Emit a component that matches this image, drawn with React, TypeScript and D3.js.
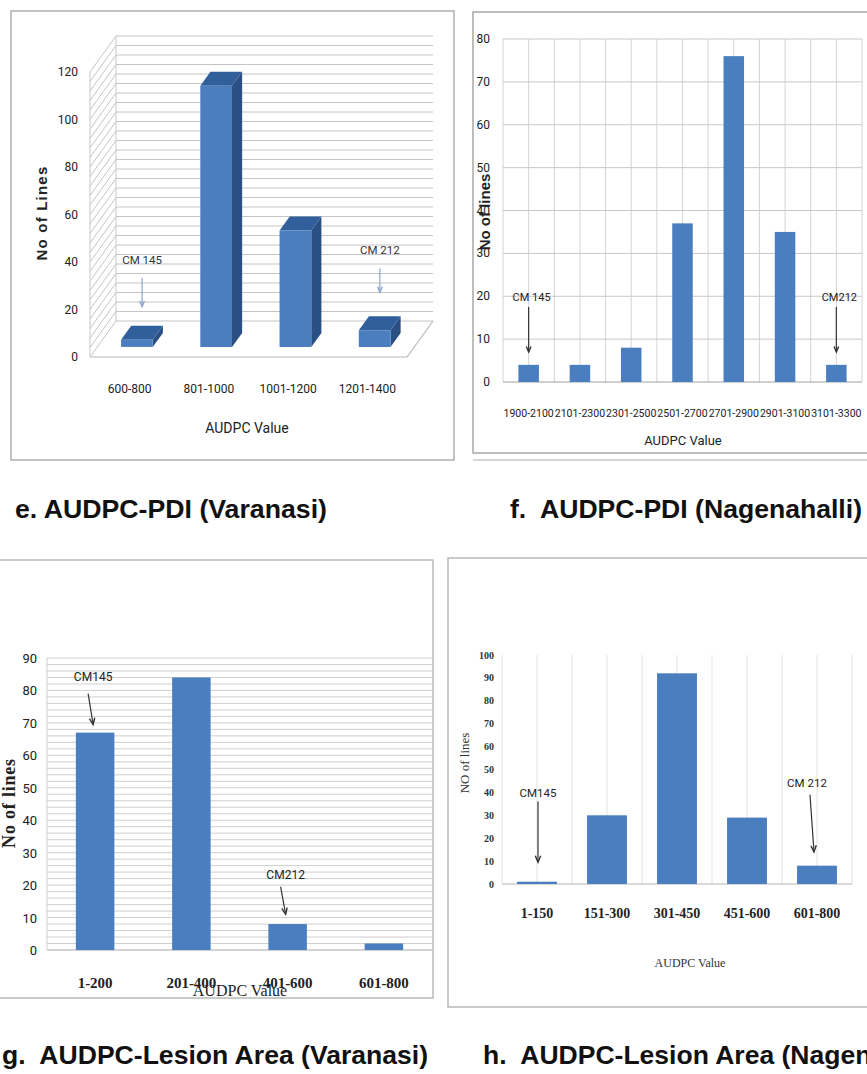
import * as d3 from "d3";

// e. AUDPC-PDI (Varanasi)
const eCats = ["600-800", "801-1000", "1001-1200", "1201-1400"];
const eVals = [3, 110, 49, 7];
const eTicks = [0, 20, 40, 60, 80, 100, 120];

// f. AUDPC-PDI (Nagenahalli)
const fCats = ["1900-2100", "2101-2300", "2301-2500", "2501-2700", "2701-2900", "2901-3100", "3101-3300"];
const fVals = [4, 4, 8, 37, 76, 35, 4];
const fTicks = [0, 10, 20, 30, 40, 50, 60, 70, 80];

// g. AUDPC-Lesion Area (Varanasi)
const gCats = ["1-200", "201-400", "401-600", "601-800"];
const gVals = [67, 84, 8, 2];
const gTicks = [0, 10, 20, 30, 40, 50, 60, 70, 80, 90];

// h. AUDPC-Lesion Area (Nagenahalli)
const hCats = ["1-150", "151-300", "301-450", "451-600", "601-800"];
const hVals = [1, 30, 92, 29, 8];
const hTicks = [0, 10, 20, 30, 40, 50, 60, 70, 80, 90, 100];

// annotations: category index, label, label level, arrow from / to (in data units)
const eNotes = [
  { cat: 0, label: "CM 145", at: 32, from: 26, to: 14 },
  { cat: 3, label: "CM 212", at: 36, from: 30, to: 20 },
];
const fNotes = [
  { cat: 0, label: "CM 145", at: 19, from: 18.4, to: 7 },
  { cat: 6, label: "CM212", at: 19, from: 18.4, to: 7 },
];
const gNotes = [
  { cat: 0, label: "CM145", at: 83, from: 79, to: 69.5 },
  { cat: 2, label: "CM212", at: 22, from: 19.5, to: 11 },
];
const hNotes = [
  { cat: 0, label: "CM145", at: 38, from: 36, to: 9.5 },
  { cat: 4, label: "CM 212", at: 42.5, from: 39, to: 14 },
];

const BLUE = "#4a7ebf";
const NARROW = "'Liberation Sans Narrow','Arial Narrow',Roboto,sans-serif";
const SERIF = "'Liberation Serif','Times New Roman',serif";
const ARIAL = "'Liberation Sans',Arial,sans-serif";

function Arrow({ x1, y1, x2, y2, color, head = 6 }: any) {
  const a = Math.atan2(y2 - y1, x2 - x1);
  const p1 = [x2 - head * Math.cos(a - 0.4), y2 - head * Math.sin(a - 0.4)];
  const p2 = [x2 - head * Math.cos(a + 0.4), y2 - head * Math.sin(a + 0.4)];
  return (
    <g>
      <line x1={x1} y1={y1} x2={x2} y2={y2} stroke={color} strokeWidth={1.2} />
      <path d={`M${p1[0]},${p1[1]}L${x2},${y2}L${p2[0]},${p2[1]}`} fill="none" stroke={color} strokeWidth={1.4} />
    </g>
  );
}

function PanelE() {
  const x = d3.scaleBand<string>().domain(eCats).range([90, 407]);
  const y = d3.scaleLinear().domain([0, 120]).range([357, 72]);
  const DX = 26, DY = -36;
  const p = (px: number, py: number, d: number) => [px + d * DX, py + d * DY];
  const pts = (a: number[][]) => a.map((q) => q.join(",")).join(" ");
  const d0 = 0.28, d1 = 0.67, dm = 0.48;
  const grid = d3.range(0, 121, 4);
  const bw = x.bandwidth() * 0.4;
  return (
    <g>
      <rect x={11} y={11} width={443} height={449} fill="#fff" stroke="#b0b0b0" strokeWidth={1.5} />
      {grid.map((v) => {
        const [bx, by] = p(90, y(v), 1);
        const [ex] = p(407, y(v), 1);
        return (
          <g key={v}>
            <line x1={90} y1={y(v)} x2={bx} y2={by} stroke="#c4c4c4" />
            <line x1={bx} y1={by} x2={ex} y2={by} stroke="#c4c4c4" />
          </g>
        );
      })}
      <line x1={90} y1={y(120)} x2={90} y2={y(0)} stroke="#c8c8c8" />
      <line x1={p(90, 0, 1)[0]} y1={p(0, y(120), 1)[1]} x2={p(90, 0, 1)[0]} y2={p(0, y(0), 1)[1]} stroke="#c8c8c8" />
      <line x1={90} y1={y(0)} x2={407} y2={y(0)} stroke="#b8b8b8" strokeWidth={1.2} />
      <line x1={407} y1={y(0)} x2={p(407, 0, 1)[0]} y2={p(0, y(0), 1)[1]} stroke="#b8b8b8" strokeWidth={1.2} />
      {eCats.map((c, i) => {
        const xc = (x(c) as number) + x.bandwidth() / 2;
        const xl = xc - bw / 2, xr = xc + bw / 2;
        const yt = y(eVals[i]), yb = y(0);
        return (
          <g key={c}>
            <polygon points={pts([p(xr, yt, d0), p(xr, yt, d1), p(xr, yb, d1), p(xr, yb, d0)])} fill="#2a4f82" />
            <polygon points={pts([p(xl, yt, d0), p(xr, yt, d0), p(xr, yt, d1), p(xl, yt, d1)])} fill="#315f9c" />
            <polygon points={pts([p(xl, yt, d0), p(xr, yt, d0), p(xr, yb, d0), p(xl, yb, d0)])} fill={BLUE} />
          </g>
        );
      })}
      {eTicks.map((t) => (
        <text key={t} x={78} y={y(t) + 4} textAnchor="end" fontFamily={NARROW} fontSize={12} fill="#222">{t}</text>
      ))}
      {eCats.map((c) => (
        <text key={c} x={(x(c) as number) + x.bandwidth() / 2} y={393} textAnchor="middle" fontFamily={NARROW} fontSize={12} fill="#222">{c}</text>
      ))}
      {eNotes.map((n) => {
        const xc = (x(eCats[n.cat]) as number) + x.bandwidth() / 2;
        const [tx, ty] = p(xc, y(n.at), dm);
        const [ax, ay1] = p(xc, y(n.from), dm);
        const [, ay2] = p(xc, y(n.to), dm);
        return (
          <g key={n.label}>
            <text x={tx} y={ty} textAnchor="middle" fontFamily={NARROW} fontSize={11.5} fill="#333">{n.label}</text>
            <Arrow x1={ax} y1={ay1} x2={ax} y2={ay2} color="#8aa6cc" head={6} />
          </g>
        );
      })}
      <text transform="translate(47,213) rotate(-90)" textAnchor="middle" fontFamily={ARIAL} fontWeight="bold" fontSize={15} letterSpacing={1.2} fill="#222">No of Lines</text>
      <text x={247} y={433} textAnchor="middle" fontFamily={NARROW} fontSize={14} fill="#222">AUDPC Value</text>
    </g>
  );
}

function PanelF() {
  const x = d3.scaleBand<string>().domain(fCats).range([503, 862]);
  const y = d3.scaleLinear().domain([0, 80]).range([382, 39]);
  const bw = x.bandwidth() * 0.4;
  const vlines = d3.range(0, fCats.length * 2 + 1).map((k) => 503 + (k * x.bandwidth()) / 2);
  return (
    <g>
      <rect x={473} y={12} width={400} height={441} fill="#fff" stroke="#a8a8a8" strokeWidth={1.5} />
      <line x1={473} y1={460} x2={867} y2={460} stroke="#c8c8c8" strokeWidth={1.5} />
      {vlines.map((vx, k) => (
        <line key={k} x1={vx} y1={y(80)} x2={vx} y2={y(0)} stroke="#d4d4d4" />
      ))}
      {fTicks.map((t) => (
        <line key={t} x1={503} y1={y(t)} x2={862} y2={y(t)} stroke={t === 0 ? "#a0a0a0" : "#c8c8c8"} />
      ))}
      {fCats.map((c, i) => (
        <rect key={c} x={(x(c) as number) + (x.bandwidth() - bw) / 2} y={y(fVals[i])} width={bw} height={y(0) - y(fVals[i])} fill={BLUE} />
      ))}
      {fTicks.map((t) => (
        <text key={t} x={490} y={y(t) + 4} textAnchor="end" fontFamily={NARROW} fontSize={12} fill="#222">{t}</text>
      ))}
      {fCats.map((c) => (
        <text key={c} x={(x(c) as number) + x.bandwidth() / 2} y={417} textAnchor="middle" fontFamily={NARROW} fontSize={11.5} textLength={x.bandwidth() - 1} lengthAdjust="spacingAndGlyphs" fill="#222">{c}</text>
      ))}
      {fNotes.map((n) => {
        const xc = (x(fCats[n.cat]) as number) + x.bandwidth() / 2;
        return (
          <g key={n.label}>
            <text x={xc + 3} y={y(n.at)} textAnchor="middle" fontFamily={NARROW} fontSize={11} fill="#222">{n.label}</text>
            <Arrow x1={xc} y1={y(n.from) + 4} x2={xc} y2={y(n.to)} color="#333" head={6} />
          </g>
        );
      })}
      <text transform="translate(490,212) rotate(-90)" textAnchor="middle" fontFamily={ARIAL} fontWeight="bold" fontSize={15} fill="#222">No of lines</text>
      <text x={683} y={445} textAnchor="middle" fontFamily={NARROW} fontSize={13} fill="#222">AUDPC Value</text>
    </g>
  );
}

function PanelG() {
  const x = d3.scaleBand<string>().domain(gCats).range([47, 432]);
  const y = d3.scaleLinear().domain([0, 90]).range([950, 658]);
  const bw = x.bandwidth() * 0.4;
  const grid = d3.range(0, 91, 2);
  return (
    <g>
      <rect x={-2} y={560} width={435} height={438} fill="#fff" stroke="#b8b8b8" strokeWidth={1.5} />
      {grid.map((v) => (
        <line key={v} x1={47} y1={y(v)} x2={432} y2={y(v)} stroke={v === 0 ? "#a8a8a8" : "#cfcfcf"} />
      ))}
      <line x1={47} y1={y(90)} x2={47} y2={y(0)} stroke="#d0d0d0" />
      {gCats.map((c, i) => (
        <rect key={c} x={(x(c) as number) + (x.bandwidth() - bw) / 2} y={y(gVals[i])} width={bw} height={y(0) - y(gVals[i])} fill={BLUE} />
      ))}
      {gTicks.map((t) => (
        <text key={t} x={37} y={y(t) + 5} textAnchor="end" fontFamily={NARROW} fontSize={13} fill="#222">{t}</text>
      ))}
      {gCats.map((c) => (
        <text key={c} x={(x(c) as number) + x.bandwidth() / 2} y={988} textAnchor="middle" fontFamily={SERIF} fontWeight="bold" fontSize={15} fill="#222">{c}</text>
      ))}
      {gNotes.map((n) => {
        const xc = (x(gCats[n.cat]) as number) + x.bandwidth() / 2;
        return (
          <g key={n.label}>
            <text x={xc - 2} y={y(n.at)} textAnchor="middle" fontFamily={NARROW} fontSize={12} fill="#222">{n.label}</text>
            <Arrow x1={xc - 7} y1={y(n.from)} x2={xc - 2} y2={y(n.to)} color="#333" head={7} />
          </g>
        );
      })}
      <text transform="translate(15,803) rotate(-90)" textAnchor="middle" fontFamily={SERIF} fontWeight="bold" fontSize={18} letterSpacing={0.8} fill="#222">No of lines</text>
      <text x={240} y={996} textAnchor="middle" fontFamily={SERIF} fontSize={16} fill="#222">AUDPC Value</text>
    </g>
  );
}

function PanelH() {
  const x = d3.scaleBand<string>().domain(hCats).range([502, 852]);
  const y = d3.scaleLinear().domain([0, 100]).range([884, 655]);
  const bw = x.bandwidth() * 0.57;
  const vlines = d3.range(0, hCats.length * 2 + 1).map((k) => 502 + (k * x.bandwidth()) / 2);
  return (
    <g>
      <rect x={448} y={558} width={425} height={449} fill="#fff" stroke="#b8b8b8" strokeWidth={1.5} />
      {vlines.map((vx, k) => (
        <line key={k} x1={vx} y1={y(100)} x2={vx} y2={y(0)} stroke="#e2e2e2" />
      ))}
      <line x1={502} y1={y(0)} x2={852} y2={y(0)} stroke="#b4b4b4" />
      {hCats.map((c, i) => (
        <rect key={c} x={(x(c) as number) + (x.bandwidth() - bw) / 2} y={y(hVals[i])} width={bw} height={y(0) - y(hVals[i])} fill={BLUE} />
      ))}
      {hTicks.map((t) => (
        <text key={t} x={494} y={y(t) + 3.5} textAnchor="end" fontFamily={SERIF} fontWeight="bold" fontSize={10} fill="#333">{t}</text>
      ))}
      {hCats.map((c) => (
        <text key={c} x={(x(c) as number) + x.bandwidth() / 2} y={918} textAnchor="middle" fontFamily={SERIF} fontWeight="bold" fontSize={14} fill="#222">{c}</text>
      ))}
      {hNotes.map((n, i) => {
        const xc = (x(hCats[n.cat]) as number) + x.bandwidth() / 2;
        const off = i === 0 ? 1 : -10;
        return (
          <g key={n.label}>
            <text x={xc + off} y={y(n.at)} textAnchor="middle" fontFamily={NARROW} fontSize={11.5} fill="#222">{n.label}</text>
            <Arrow x1={xc + off + (i === 0 ? 0 : 3)} y1={y(n.from)} x2={xc + off + (i === 0 ? 0 : 7)} y2={y(n.to)} color="#333" head={7} />
          </g>
        );
      })}
      <text transform="translate(469,763) rotate(-90)" textAnchor="middle" fontFamily={SERIF} fontSize={13} fill="#333">NO of lines</text>
      <text x={690} y={967} textAnchor="middle" fontFamily={SERIF} fontSize={12} fill="#333">AUDPC Value</text>
    </g>
  );
}

export default function App() {
  const cap = { fontFamily: ARIAL, fontWeight: "bold", fontSize: 26, fill: "#111", style: { whiteSpace: "pre" } } as any;
  return (
    <svg width={867} height={1074} style={{ position: "absolute", left: 0, top: 0, background: "#fff" }}>
      <rect width={867} height={1074} fill="#fff" />
      <PanelE />
      <PanelF />
      <PanelG />
      <PanelH />
      <text x={15} y={518} textLength={312} lengthAdjust="spacingAndGlyphs" {...cap}>e. AUDPC-PDI (Varanasi)</text>
      <text x={510} y={518} textLength={352} lengthAdjust="spacingAndGlyphs" {...cap}>f.  AUDPC-PDI (Nagenahalli)</text>
      <text x={2} y={1064} textLength={426} lengthAdjust="spacingAndGlyphs" {...cap}>g.  AUDPC-Lesion Area (Varanasi)</text>
      <text x={483} y={1064} textLength={465} lengthAdjust="spacingAndGlyphs" {...cap}>h.  AUDPC-Lesion Area (Nagenahalli)</text>
    </svg>
  );
}
